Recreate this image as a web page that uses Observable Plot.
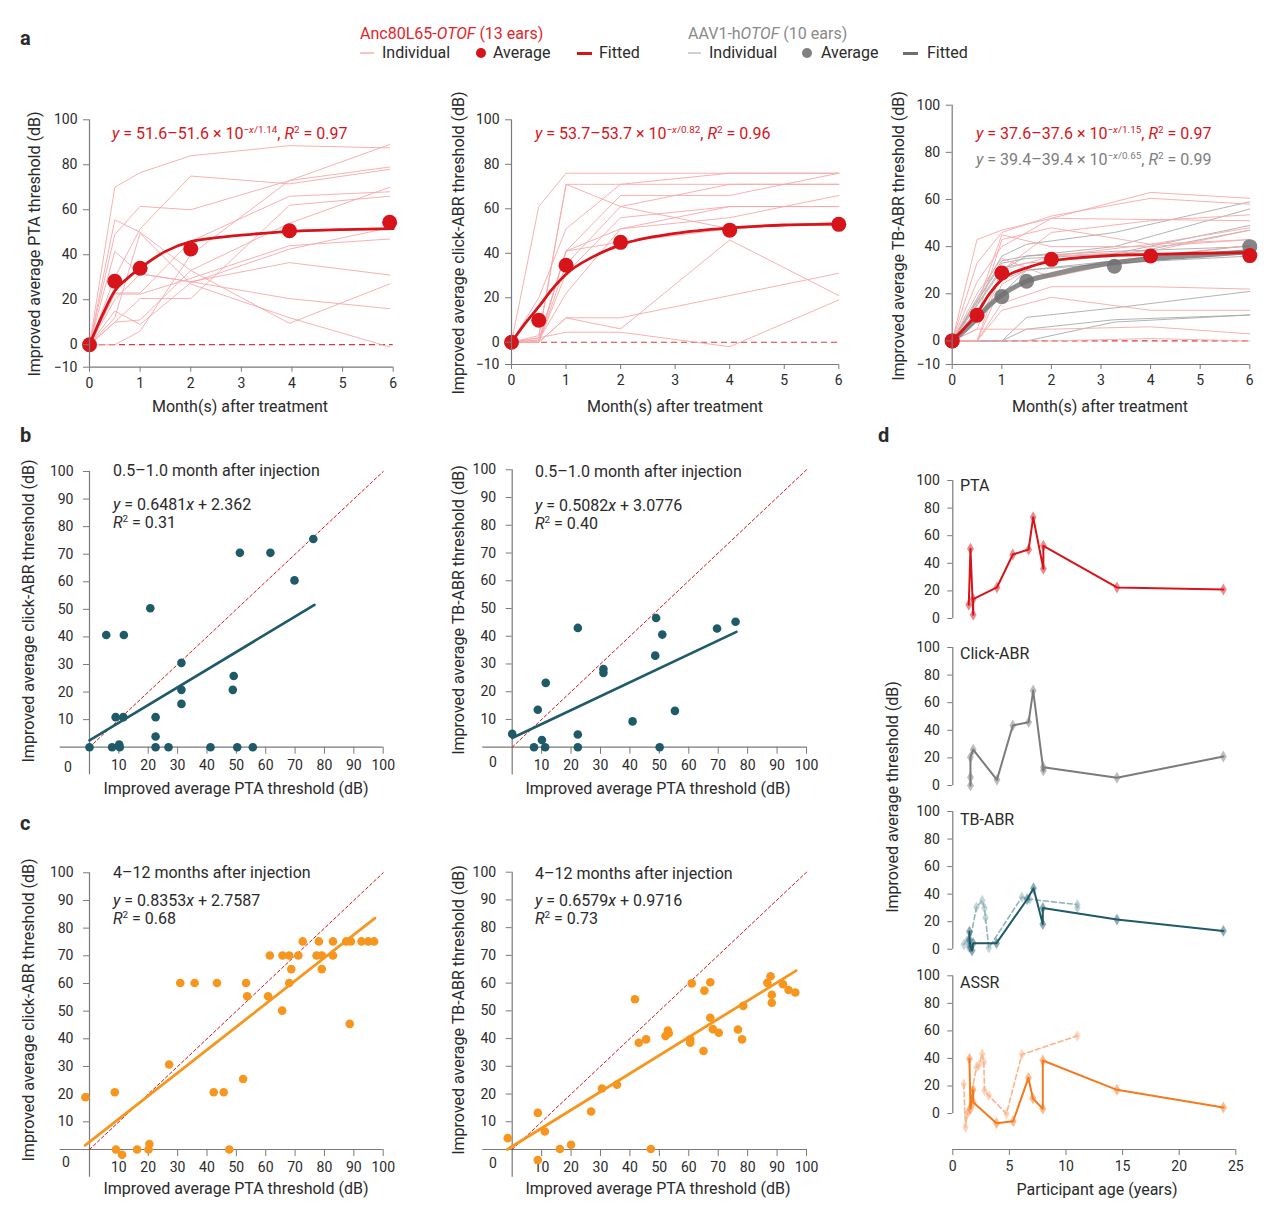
<!DOCTYPE html>
<html><head><meta charset="utf-8">
<script src="https://cdn.jsdelivr.net/npm/d3@7"></script>
<script src="https://cdn.jsdelivr.net/npm/@observablehq/plot@0.6"></script>
<style>
body{margin:0;background:#fff;font-family:Roboto,"Noto Sans",sans-serif;}
#root{position:relative;width:1280px;height:1213px;overflow:hidden;background:#fff;}
.abs{position:absolute;white-space:nowrap;line-height:1;}
sup{font-size:0.62em;vertical-align:0.6em;line-height:0;}
</style></head><body><div id="root"></div>
<script>
// ---------- Panel a data ----------
const aTimes = [0, 0.5, 1, 2, 4, 6];
const ptaTimes = [0, 0.5, 1, 2, 3.95, 5.93];
const ptaIndividual = [
  [0,70,76.5,84,88.5,87.5],
  [0,49,61.5,60,73,79],
  [0,30,51.5,75,71.5,78],
  [0,41.5,31.5,28,20.5,16],
  [0,55.5,50,33,9.5,27],
  [0,23,23,46,66,68],
  [0,10,11,33,54,70],
  [0,10,20.5,20.5,62,66],
  [0,22.5,22.5,29.5,44,47],
  [0,0,6,40,73,89],
  [0,20,31.5,28,36.5,31],
  [0,15,9,27.5,42.5,52],
  [0,12,49.5,27,12,-1]
];
const ptaAverage = [0, 28.2, 34, 42.6, 50.7, 54.4];
const clickIndividual = [
  [0,61,76,76,76,76],
  [0,3,71,71,71,71],
  [0,2,71,61,51,54],
  [0,20,51,71,76,76],
  [0,1,41,66,66,76],
  [0,0,31,56,61,61],
  [0,0,41,51,56,66],
  [0,1,22,51,61,61],
  [0,0,11,11,21,31],
  [0,0,11,6,46,21],
  [0,2,4.5,4.5,-2,19],
  [0,0,41,45,51,54],
  [0,0,35,61,71,71]
];
const clickAverage = [0, 9.9, 34.6, 44.9, 50.4, 53];
const tbIndividual = [
  [0,43,47,52,63,60.5],
  [0,33,46,53,60.5,58],
  [0,10,43,48,41,43],
  [0,25,40,52,51.5,51],
  [0,5,30,46,51,53.5],
  [0,0,24,36,41,48],
  [0,0,16,23,23,22],
  [0,0,13,18.5,13,13],
  [0,5,5,5,6,3],
  [0,0,0,0,1,0],
  [0,20,35,27,36,40.5],
  [0,0,30,36,38,47],
  [0,15,45,40,40,43]
];
const tbAverage = [0, 10.9, 28.8, 34.6, 36, 36.2];
const grayTimes = [0, 1, 1.5, 3.27, 6];
const tbGrayIndividual = [
  [0,36,41,46,59],
  [0,34,36,40,56],
  [0,33,35,37,49],
  [0,31,33,36,47],
  [0,20,30,34,40.5],
  [0,26,30,33,36],
  [0,0,10,14,21],
  [0,0,5,9,11],
  [0,0,0,8,11],
  [0,30,36,38,40]
];
const tbGrayAverage = [0, 18.8, 25.3, 31.7, 40];
const fitTimes = [0,0.25,0.5,0.75,1,1.5,2,3,4,5,6];
const ptaFitted = [0,12.9,24,29.5,34,41.5,45.8,48.7,50.4,51.2,51.6];
const clickFitted = [0,8.5,16,24,30.6,38.5,43.8,48.9,51.4,52.7,53.1];
const tbFitted = [0,5.5,11.6,20,26,31,33.9,36,36.7,37.2,37.5];
const tbGrayFitted = [0,4.5,9.5,15.2,19.5,25.3,28.1,32.4,34.9,36.3,37.8];
const aXTicks = [0,1,2,3,4,5,6];
const aYTicks = [-10,0,20,40,60,80,100];

// ---------- Panel b / c data ----------
const tick10 = [10,20,30,40,50,60,70,80,90,100];
const identityLine = [0, 100];
const bClickX = [5.7,11.7,20.7,31.3,31.3,31.3,8.9,11.5,22.5,22.5,0,7.7,10.1,10.3,22.5,26.9,41.2,50.3,55.6,51.2,61.6,69.8,76.2,49.1,48.8];
const bClickY = [40.7,40.7,50.4,30.6,20.8,15.7,10.9,10.9,10.9,3.9,0,0,1,0,0,0,0,0,0,70.5,70.5,60.5,75.5,25.8,20.8];
const bClickFitX = [0, 76.6];
const bClickFitY = [2.5, 51.6];
const bTbX = [0,8.7,11.4,7.4,10.1,11.2,22.3,22.3,22.3,31,31,40.9,48.9,48.6,51,50.1,55.3,69.6,75.9];
const bTbY = [4.8,13.5,23.2,0,2.6,0,43,4.6,0,28.2,26.8,9.3,46.6,33,40.6,0,13.1,42.8,45.2];
const bTbFitX = [0, 76.2];
const bTbFitY = [3.3, 41.6];
const cClickX = [-1.4,8.6,9,11.1,16.2,20.1,20.4,27.1,30.9,35.8,42.3,43.4,45.7,47.6,52.3,53.3,53.7,61.4,60.8,65.6,65.7,68,68.7,68,71.1,72.6,77.3,78.1,79.1,79.1,82.9,82.9,87.4,89,88.6,92.6,94.9,96.9];
const cClickY = [18.9,20.7,0,-1.9,0,0,2,30.7,60.2,60.2,20.7,60.2,20.7,0,25.5,60.2,55.4,70.1,55.4,50.2,70.1,70.1,65.2,60.2,70.1,75.2,70.1,75.2,70.1,65.2,75.2,70.1,75.2,75.2,45.4,75.2,75.2,75.2];
const cClickFitX = [-1.5, 97.2];
const cClickFitY = [1.5, 83.6];
const cTbX = [-1.5,8.7,8.7,11.1,16.2,20,26.8,30.5,35.6,41.7,43,45.5,47.1,52.1,52.9,53.2,60.5,60.5,61,65,65.3,67.3,67.3,68.2,70.2,76.7,78.1,78.5,86.7,87.8,88.2,88.2,92,93.9,96.2];
const cTbY = [4.1,13.2,-3.8,6.5,0.2,1.7,13.7,22,23.4,54.2,38.5,39.7,0.2,40.9,42.9,41.9,39.7,38.5,59.9,35.5,57.3,60.3,47.5,43.4,42.1,43.3,39.7,51.8,60.1,62.5,55.8,52.9,59.6,57.5,56.6];
const cTbFitX = [-1.7, 96.5];
const cTbFitY = [0, 64.5];

// ---------- Panel d data ----------
const dAgeTicks = [0,5,10,15,20,25];
const dYTicks = [0,20,40,60,80,100];
const ptaAge = [1.41,1.56,1.8,1.8,3.9,5.3,6.7,7.1,8.0,8.0,14.5,23.9];
const ptaImprove = [10,50.5,2.7,14,22.5,46.4,50,73.4,36,52.7,22.5,21];
const clickAge = [1.56,1.56,1.56,1.8,3.9,5.3,6.7,7.1,8.0,8.0,14.5,23.9];
const clickImprove = [0,6,20.5,26,4.1,43.5,45.9,68.8,10.9,13.3,5.6,21];
const tbAge = [1.47,1.47,1.56,1.7,1.8,3.86,6.57,7.13,7.95,7.95,14.5,23.9];
const tbImprove = [12.8,6.8,1.5,-1,4.4,4.4,36.3,44.3,18.2,30,21.5,13.3];
const tbAge2 = [0.97,1.27,1.41,2.09,2.6,2.8,2.89,3.18,6.1,6.8,11,11];
const tbImprove2 = [3.4,6.3,1.5,30.5,35.4,30,22.8,1,37.8,36.3,32.4,30];
const assrAge = [1.47,1.56,1.8,1.8,3.86,5.33,6.68,7.07,7.95,7.95,14.5,23.9];
const assrImprove = [39.7,3.4,17.2,8.2,-7,-5.6,25.9,11.1,3.4,38.5,17.2,4.4];
const assrAge2 = [0.97,1.12,1.27,1.35,2.09,2.3,2.6,2.74,2.8,3.18,4.74,6.1,11];
const assrImprove2 = [21.5,-10,-0.2,1,33.7,35,43.3,37.3,16.7,13,-0.2,42.9,56.4];

// ---------- styling ----------
const RED = "#d7141a", PINK = "#f6a8ab", GRAYI = "#a6a6a6", GRAY = "#707070";
const TEAL = "#1e5a68", ORANGE = "#f7961f", AXIS = "#7a7a7a", TXT = "#2a2a2a";
const FONT = "Roboto, 'Noto Sans', sans-serif";
const root = document.getElementById("root");
const plotStyle = {fontFamily: FONT, fontSize: "14px", color: TXT, background: "transparent", overflow: "visible"};

function place(el, left, top) {
  el.style.position = "absolute";
  el.style.left = left + "px";
  el.style.top = top + "px";
  root.appendChild(el);
}
function txt(html, x, y, o = {}) {
  const d = document.createElement("div");
  d.className = "abs";
  d.innerHTML = html;
  d.style.left = x + "px";
  d.style.top = y + "px";
  d.style.fontSize = (o.size || 16) + "px";
  d.style.color = o.color || TXT;
  if (o.bold) d.style.fontWeight = "700";
  if (o.rotate) d.style.transform = "translate(-50%,-50%) rotate(-90deg)";
  else if (o.center) d.style.transform = "translate(-50%,-50%)";
  else d.style.transform = "translate(0,-50%)";
  root.appendChild(d);
}
const rows = (mat, times) => mat.flatMap((arr, i) => arr.map((v, j) => ({id: i, t: times[j], v})));
const pairs = (xs, ys) => xs.map((x, i) => ({x, y: ys[i]}));

// ---------- Panel a ----------
function panelA(c) {
  const marks = [
    Plot.ruleY([0], {stroke: RED, strokeDasharray: "6,4", strokeWidth: 1.2, strokeOpacity: 0.85}),
  ];
  if (c.grayIndiv) marks.push(Plot.line(rows(c.grayIndiv, grayTimes), {x: "t", y: "v", z: "id", stroke: GRAYI, strokeWidth: 1, strokeOpacity: 0.85}));
  marks.push(Plot.line(rows(c.indiv, c.times), {x: "t", y: "v", z: "id", stroke: PINK, strokeWidth: 1, strokeOpacity: 0.9}));
  if (c.grayFit) {
    marks.push(Plot.line(pairs(fitTimes, c.grayFit), {x: "x", y: "y", stroke: GRAY, strokeWidth: 5, strokeOpacity: 0.8, curve: "monotone-x"}));
    marks.push(Plot.dot(pairs(grayTimes, c.grayAvg), {x: "x", y: "y", r: 7.5, fill: GRAY, fillOpacity: 0.85}));
  }
  marks.push(Plot.line(pairs(fitTimes, c.fit), {x: "x", y: "y", stroke: RED, strokeWidth: 2.8, curve: "monotone-x"}));
  marks.push(Plot.dot(pairs(c.times, c.avg), {x: "x", y: "y", r: 7.5, fill: RED}));
  marks.push(Plot.ruleX([0], {stroke: AXIS, strokeWidth: 1.2}));
  marks.push(Plot.ruleY([-10], {stroke: AXIS, strokeWidth: 1.2}));
  marks.push(Plot.axisX({ticks: aXTicks, tickFormat: d => String(d), tickSize: 5, tickPadding: 6, label: null, stroke: AXIS, fill: TXT}));
  marks.push(Plot.axisY({ticks: aYTicks, tickSize: 6, tickPadding: 6, label: null, stroke: AXIS, fill: TXT}));
  const p = Plot.plot({
    width: c.width, height: c.height,
    marginLeft: c.mL, marginRight: c.mR, marginTop: c.mT, marginBottom: c.mB,
    x: {domain: [0, 6]},
    y: {domain: [-10, 100]},
    style: plotStyle,
    marks
  });
  place(p, c.left, c.top);
}
panelA({left: 0, top: 95, width: 420, height: 330, mL: 89, mR: 27.3, mT: 24.3, mB: 58.3,
  indiv: ptaIndividual, times: ptaTimes, avg: ptaAverage, fit: ptaFitted});
panelA({left: 430, top: 95, width: 430, height: 330, mL: 81, mR: 21.7, mT: 24.3, mB: 61,
  indiv: clickIndividual, times: aTimes, avg: clickAverage, fit: clickFitted});
panelA({left: 870, top: 85, width: 410, height: 340, mL: 81.7, mR: 30.7, mT: 19.7, mB: 61,
  indiv: tbIndividual, times: aTimes, avg: tbAverage, fit: tbFitted,
  grayIndiv: tbGrayIndividual, grayAvg: tbGrayAverage, grayFit: tbGrayFitted});

// ---------- Panels b, c ----------
function scatter(c) {
  const p = Plot.plot({
    width: c.width, height: c.height,
    marginLeft: c.mL, marginRight: c.mR, marginTop: c.mT, marginBottom: c.mB,
    x: {domain: [0, 100]}, y: {domain: [0, 100]},
    style: plotStyle,
    marks: [
      Plot.ruleY([0], {x1: -10, x2: 100, stroke: AXIS, strokeWidth: 1.2}),
      Plot.ruleX([0], {y1: -10, y2: 100, stroke: AXIS, strokeWidth: 1.2}),
      Plot.axisX({ticks: tick10, tickSize: 7, tickPadding: 6, label: null, stroke: AXIS, fill: TXT}),
      Plot.axisY({ticks: tick10, tickSize: 6, tickPadding: 10, label: null, stroke: AXIS, fill: TXT}),
      Plot.line(identityLine, {x: d => d, y: d => d, stroke: RED, strokeWidth: 1, strokeDasharray: "3,2.5"}),
      Plot.dot(pairs(c.xs, c.ys), {x: "x", y: "y", r: c.r, fill: c.color}),
      Plot.line(pairs(c.fx, c.fy), {x: "x", y: "y", stroke: c.color, strokeWidth: c.lw})
    ]
  });
  place(p, c.left, c.top);
}
scatter({left: 0, top: 440, width: 420, height: 370, mL: 89, mR: 37.3, mT: 31, mB: 63.3,
  xs: bClickX, ys: bClickY, fx: bClickFitX, fy: bClickFitY, color: TEAL, r: 4.3, lw: 2.6});
scatter({left: 430, top: 440, width: 420, height: 370, mL: 81.7, mR: 44, mT: 29.3, mB: 63.3,
  xs: bTbX, ys: bTbY, fx: bTbFitX, fy: bTbFitY, color: TEAL, r: 4.3, lw: 2.6});
scatter({left: 0, top: 840, width: 420, height: 373, mL: 89, mR: 37.3, mT: 32.3, mB: 64,
  xs: cClickX, ys: cClickY, fx: cClickFitX, fy: cClickFitY, color: ORANGE, r: 4.3, lw: 2.8});
scatter({left: 430, top: 840, width: 420, height: 373, mL: 81.7, mR: 44, mT: 31.7, mB: 64,
  xs: cTbX, ys: cTbY, fx: cTbFitX, fy: cTbFitY, color: ORANGE, r: 4.3, lw: 2.8});

// ---------- Panel d ----------
function ageStrip(c) {
  const marks = [
    Plot.ruleX([0], {y1: 0, y2: 100, stroke: AXIS, strokeWidth: 1.2}),
    Plot.axisY({ticks: dYTicks, tickSize: 5, tickPadding: 8, label: null, stroke: AXIS, fill: TXT})
  ];
  if (c.x2) {
    marks.push(Plot.line(pairs(c.x2, c.y2), {x: "x", y: "y", stroke: c.color2, strokeWidth: 1.6, strokeDasharray: "5,3"}));
    marks.push(Plot.dot(pairs(c.x2, c.y2), {x: "x", y: "y", symbol: "diamond", r: 3.4, fill: c.color2, fillOpacity: 0.55}));
  }
  marks.push(Plot.line(pairs(c.xs, c.ys), {x: "x", y: "y", stroke: c.color, strokeWidth: 2}));
  marks.push(Plot.dot(pairs(c.xs, c.ys), {x: "x", y: "y", symbol: "diamond", r: 3.6, fill: c.color, fillOpacity: 0.5}));
  if (c.xAxis) {
    marks.push(Plot.ruleY([c.yMin], {x1: 0, x2: 25, stroke: AXIS, strokeWidth: 1.2}));
    marks.push(Plot.axisX({ticks: dAgeTicks, tickSize: 6, tickPadding: 6, label: null, stroke: AXIS, fill: TXT}));
  } else {
    marks.push(Plot.axisX({ticks: [], label: null}));
  }
  const p = Plot.plot({
    width: 410, height: c.height,
    marginLeft: 82.3, marginRight: 44.7, marginTop: c.mT, marginBottom: c.mB,
    x: {domain: [0, 25]}, y: {domain: [c.yMin, 100]},
    style: plotStyle,
    marks
  });
  place(p, 870, c.top);
}
ageStrip({top: 470, height: 160, mT: 10, mB: 12, yMin: 0, xs: ptaAge, ys: ptaImprove, color: RED});
ageStrip({top: 637, height: 160, mT: 10, mB: 12, yMin: 0, xs: clickAge, ys: clickImprove, color: "#7b7b7b"});
ageStrip({top: 801, height: 160, mT: 10, mB: 12.3, yMin: 0, xs: tbAge, ys: tbImprove, color: TEAL,
  x2: tbAge2, y2: tbImprove2, color2: "#93b3bb"});
ageStrip({top: 965, height: 248, mT: 10.3, mB: 64, yMin: -26.1, xs: assrAge, ys: assrImprove, color: "#f57a1e",
  x2: assrAge2, y2: assrImprove2, color2: "#f9b58c", xAxis: true});

// ---------- Text ----------
txt("a", 20, 38, {size: 20, bold: true});
txt("b", 20, 435, {size: 20, bold: true});
txt("c", 20, 823, {size: 20, bold: true});
txt("d", 878, 435, {size: 20, bold: true});

txt("Anc80L65-<i>OTOF</i> (13 ears)", 360, 34, {color: "#e3242b"});
txt("AAV1-h<i>OTOF</i> (10 ears)", 688, 34, {color: "#8a8a8a"});
function legLine(x, w, color, h) {
  const d = document.createElement("div");
  d.style.cssText = `position:absolute;left:${x}px;top:${53 - h / 2}px;width:${w}px;height:${h}px;background:${color};`;
  root.appendChild(d);
}
function legDot(x, color) {
  const d = document.createElement("div");
  d.style.cssText = `position:absolute;left:${x - 5}px;top:48px;width:10px;height:10px;border-radius:50%;background:${color};`;
  root.appendChild(d);
}
legLine(360, 14, "#f8c3c5", 1.5); txt("Individual", 382, 53);
legDot(481, RED); txt("Average", 493, 53);
legLine(577, 15, RED, 3); txt("Fitted", 599, 53);
legLine(688, 13, "#cfcfcf", 1.5); txt("Individual", 709, 53);
legDot(807, "#808080"); txt("Average", 821, 53);
legLine(903, 15, "#6f6f6f", 3); txt("Fitted", 927, 53);

txt("<i>y</i> = 51.6–51.6 × 10<sup>−<i>x</i>/1.14</sup>, <i>R</i><sup>2</sup> = 0.97", 112, 134, {color: RED});
txt("<i>y</i> = 53.7–53.7 × 10<sup>−<i>x</i>/0.82</sup>, <i>R</i><sup>2</sup> = 0.96", 535, 134, {color: RED});
txt("<i>y</i> = 37.6–37.6 × 10<sup>−<i>x</i>/1.15</sup>, <i>R</i><sup>2</sup> = 0.97", 976, 134, {color: RED});
txt("<i>y</i> = 39.4–39.4 × 10<sup>−<i>x</i>/0.65</sup>, <i>R</i><sup>2</sup> = 0.99", 976, 160, {color: "#7d7d7d"});

txt("Improved average PTA threshold (dB)", 35, 244, {rotate: true});
txt("Month(s) after treatment", 240, 407, {center: true});
txt("Improved average click-ABR threshold (dB)", 459, 243, {rotate: true});
txt("Month(s) after treatment", 675, 407, {center: true});
txt("Improved average TB-ABR threshold (dB)", 899, 236, {rotate: true});
txt("Month(s) after treatment", 1100, 407, {center: true});

txt("0.5–1.0 month after injection", 113, 471);
txt("<i>y</i> = 0.6481<i>x</i> + 2.362", 113, 505);
txt("<i>R</i><sup>2</sup> = 0.31", 113, 523);
txt("0.5–1.0 month after injection", 535, 472);
txt("<i>y</i> = 0.5082<i>x</i> + 3.0776", 535, 506);
txt("<i>R</i><sup>2</sup> = 0.40", 535, 524);
txt("0", 68, 767, {center: true, size: 14});
txt("0", 493, 762, {center: true, size: 14});
txt("Improved average click-ABR threshold (dB)", 29, 611, {rotate: true});
txt("Improved average PTA threshold (dB)", 236, 789, {center: true});
txt("Improved average TB-ABR threshold (dB)", 459, 610, {rotate: true});
txt("Improved average PTA threshold (dB)", 658, 789, {center: true});

txt("4–12 months after injection", 113, 873);
txt("<i>y</i> = 0.8353<i>x</i> + 2.7587", 113, 901);
txt("<i>R</i><sup>2</sup> = 0.68", 113, 919);
txt("4–12 months after injection", 535, 874);
txt("<i>y</i> = 0.6579<i>x</i> + 0.9716", 535, 901);
txt("<i>R</i><sup>2</sup> = 0.73", 535, 919);
txt("0", 66, 1162, {center: true, size: 14});
txt("0", 493, 1163, {center: true, size: 14});
txt("Improved average click-ABR threshold (dB)", 29, 1010, {rotate: true});
txt("Improved average PTA threshold (dB)", 236, 1189, {center: true});
txt("Improved average TB-ABR threshold (dB)", 459, 1010, {rotate: true});
txt("Improved average PTA threshold (dB)", 658, 1189, {center: true});

txt("PTA", 960, 486);
txt("Click-ABR", 960, 654);
txt("TB-ABR", 960, 820);
txt("ASSR", 960, 983);
txt("Improved average threshold (dB)", 893, 797, {rotate: true});
txt("Participant age (years)", 1097, 1190, {center: true});
</script></body></html>
